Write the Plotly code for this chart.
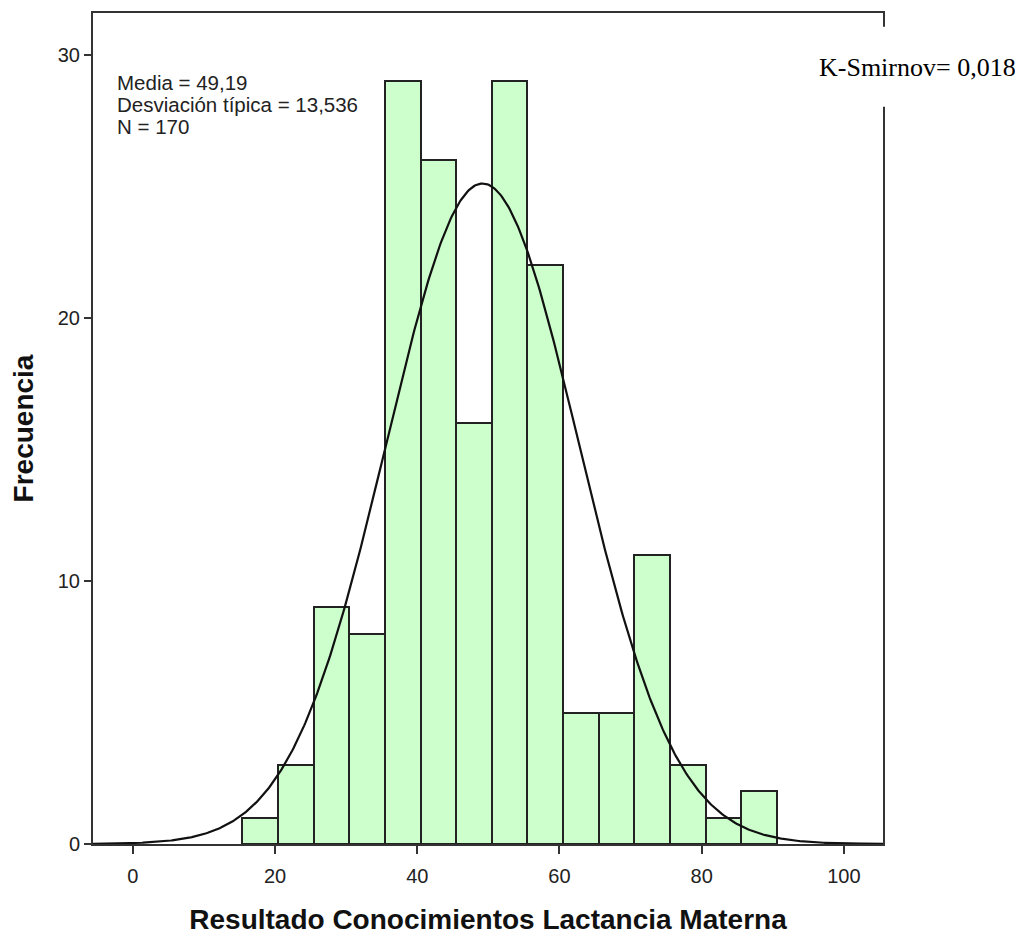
import numpy as np
import plotly.graph_objects as go

# ---- data ----
bin_start = 15.4
bin_width = 5.013
counts = [1, 3, 9, 8, 29, 26, 16, 29, 22, 5, 5, 11, 3, 1, 2]
mean_val = 49.19
sd_val = 13.536
n_val = 170
x_ticks = [0, 20, 40, 60, 80, 100]
y_ticks = [0, 10, 20, 30]
stats_lines = ["Media = 49,19", "Desviación típica = 13,536", "N = 170"]
ks_text = "K-Smirnov= 0,018"
x_title = "Resultado Conocimientos Lactancia Materna"
y_title = "Frecuencia"

x_range = [-5.6, 105.5]
y_range = [0, 31.6]

centers = [bin_start + bin_width * (i + 0.5) for i in range(len(counts))]

# normal curve scaled to histogram
xs = np.linspace(x_range[0], x_range[1], 600)
ys = n_val * bin_width / (sd_val * np.sqrt(2 * np.pi)) * np.exp(-0.5 * ((xs - mean_val) / sd_val) ** 2)

fig = go.Figure()
fig.add_trace(go.Bar(
    x=centers, y=counts, width=bin_width,
    marker=dict(color="#ccffcc", line=dict(color="#222222", width=2)),
    showlegend=False, hoverinfo="skip",
))
fig.add_trace(go.Scatter(
    x=xs, y=ys, mode="lines",
    line=dict(color="#111111", width=2.2),
    showlegend=False, hoverinfo="skip",
))

# page has an 8px body margin, so the figure is shrunk/shifted to compensate
fig.update_layout(
    width=1015, height=927,
    margin=dict(l=85, r=140, t=5, b=91),
    paper_bgcolor="white", plot_bgcolor="white",
    font=dict(family="Liberation Sans, Arial, sans-serif", color="#222222"),
    bargap=0,
)
fig.update_xaxes(
    range=x_range, tickvals=x_ticks, ticktext=[str(v) for v in x_ticks],
    showgrid=False, zeroline=False, automargin=False,
    showline=True, mirror=True, linecolor="#333333", linewidth=2,
    ticks="outside", ticklen=8, tickwidth=2, tickcolor="#333333",
    ticklabelstandoff=5,
    tickfont=dict(size=20, color="#222222"),
    title=dict(text=x_title, standoff=29,
               font=dict(size=28, color="#111111", family="Liberation Sans, Arial, sans-serif", weight="bold")),
)
fig.update_yaxes(
    range=y_range, tickvals=y_ticks, ticktext=[str(v) for v in y_ticks],
    showgrid=False, zeroline=False, automargin=False,
    showline=True, mirror=True, linecolor="#333333", linewidth=2,
    ticks="outside", ticklen=7, tickwidth=2, tickcolor="#333333",
    tickfont=dict(size=20, color="#222222"),
    title=dict(text=y_title, standoff=19,
               font=dict(size=28, color="#111111", family="Liberation Sans, Arial, sans-serif", weight="bold")),
)

# statistics text (top-left)
stat_y = [0.9165, 0.8896, 0.8635]
for txt, yy in zip(stats_lines, stat_y):
    fig.add_annotation(
        x=0.0275, y=yy, xref="paper", yref="paper",
        xanchor="left", yanchor="middle", showarrow=False,
        text=txt, font=dict(size=20.5, color="#222222", family="Liberation Sans, Arial, sans-serif"),
    )

# white box hiding part of the frame, with K-Smirnov label
fig.add_shape(
    type="rect", xref="paper", yref="paper",
    x0=0.92, x1=1.17, y0=(844 - 107) / 830.7, y1=(844 - 27) / 830.7,
    fillcolor="white", line=dict(width=0), layer="above",
)
fig.add_annotation(
    x=(918 - 93.3) / 790, y=(844 - 68) / 830.7, xref="paper", yref="paper",
    xanchor="center", yanchor="middle", showarrow=False,
    text=ks_text, font=dict(size=26, color="#000000", family="Liberation Serif, Times New Roman, serif"),
)

fig.write_html("out.html")
